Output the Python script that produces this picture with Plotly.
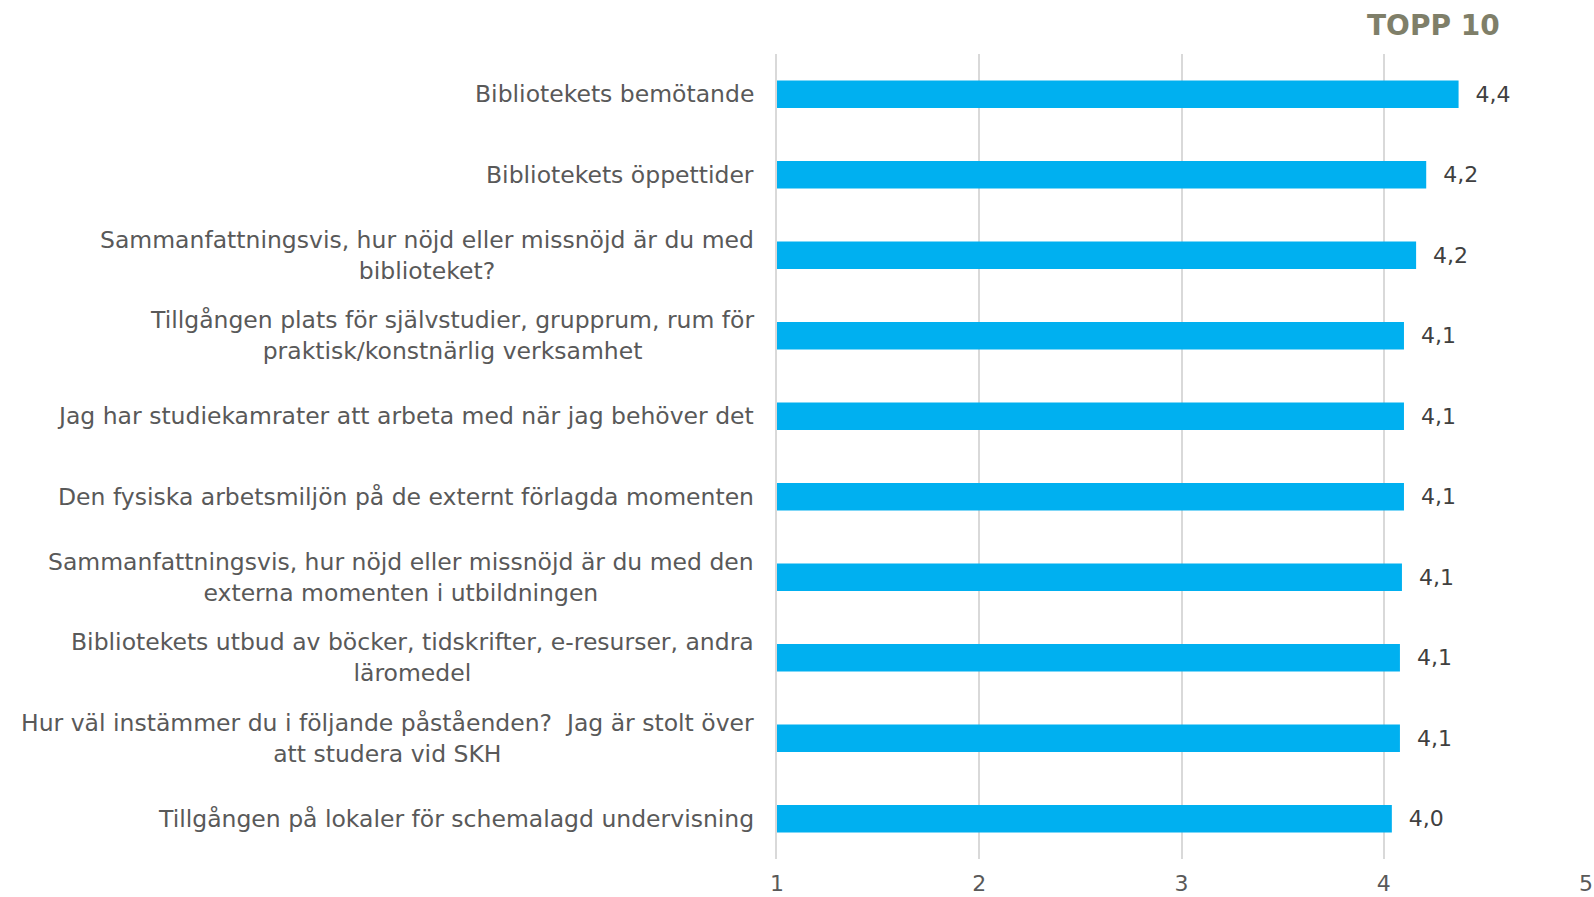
import plotly.graph_objects as go

categories = [
    "Bibliotekets bemötande",
    "Bibliotekets öppettider",
    "Sammanfattningsvis, hur nöjd eller missnöjd är du med<br>biblioteket?",
    "Tillgången plats för självstudier, grupprum, rum för<br>praktisk/konstnärlig verksamhet",
    "Jag har studiekamrater att arbeta med när jag behöver det",
    "Den fysiska arbetsmiljön på de externt förlagda momenten",
    "Sammanfattningsvis, hur nöjd eller missnöjd är du med den<br>externa momenten i utbildningen",
    "Bibliotekets utbud av böcker, tidskrifter, e-resurser, andra<br>läromedel",
    "Hur väl instämmer du i följande påståenden?  Jag är stolt över<br>att studera vid SKH",
    "Tillgången på lokaler för schemalagd undervisning",
]
values = [4.37, 4.21, 4.16, 4.10, 4.10, 4.10, 4.09, 4.08, 4.08, 4.04]
x_ticks = [1, 2, 3, 4, 5]
axis_min = 1
title_text = "TOPP 10"

FONT = "DejaVu Sans"
LABEL_SIZE = 23.5

fig = go.Figure(
    go.Bar(
        x=[v - axis_min for v in values],
        base=axis_min,
        y=categories,
        orientation="h",
        marker=dict(color="#00b0f0", line=dict(width=0)),
        width=0.34,
        text=["\u00a0\u00a0" + f"{v:.1f}".replace(".", ",") for v in values],
        textposition="outside",
        textfont=dict(family=FONT, size=22, color="#404040"),
        cliponaxis=False,
        hoverinfo="skip",
    )
)

annotations = [
    dict(
        text="<b>" + title_text + "</b>",
        xref="paper", yref="paper",
        x=(1433 - 777) / (1586 - 777), y=1,
        xanchor="center", yanchor="bottom", yshift=10,
        showarrow=False,
        font=dict(family=FONT, size=28, color="#7f7f69"),
    )
]
for c in categories:
    annotations.append(
        dict(
            text=c,
            xref="paper", yref="y",
            x=0, y=c,
            xanchor="right", yanchor="middle",
            xshift=-21,
            align="center",
            showarrow=False,
            font=dict(family=FONT, size=LABEL_SIZE, color="#595959"),
        )
    )

fig.update_layout(
    width=1594,
    height=897,
    margin=dict(l=777, r=8, t=54, b=38, autoexpand=False),
    paper_bgcolor="white",
    plot_bgcolor="white",
    showlegend=False,
    font=dict(family=FONT, size=20, color="#595959"),
    annotations=annotations,
    xaxis=dict(
        range=[1, 5],
        tickvals=x_ticks,
        ticktext=[str(t) for t in x_ticks],
        showgrid=True,
        gridcolor="#d9d9d9",
        gridwidth=1.5,
        zeroline=False,
        showline=False,
        ticks="",
        ticklabelstandoff=9,
        automargin=False,
        tickfont=dict(family=FONT, size=22, color="#595959"),
    ),
    yaxis=dict(
        autorange="reversed",
        categoryorder="array",
        categoryarray=categories,
        showgrid=False,
        zeroline=False,
        showline=True,
        linecolor="#d9d9d9",
        linewidth=1.5,
        ticks="",
        showticklabels=False,
        automargin=False,
    ),
)

fig.write_html(
    "out.html",
    config={"displayModeBar": False},
    post_script="document.body.style.margin='0';",
)
